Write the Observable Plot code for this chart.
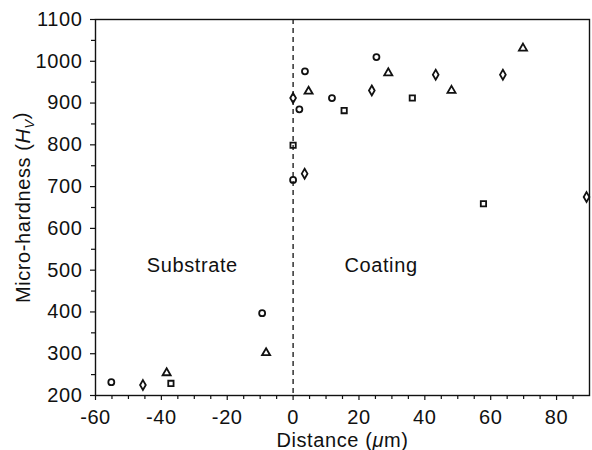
<!DOCTYPE html>
<html>
<head>
<meta charset="utf-8">
<script src="https://cdn.jsdelivr.net/npm/d3@7"></script>
<script src="https://cdn.jsdelivr.net/npm/@observablehq/plot@0.6"></script>
<style>
  html, body { margin: 0; padding: 0; background: #fff; }
</style>
</head>
<body>
<div id="chart"></div>
<script>
// Data
const circleX   = [-55.2, -9.4, 0, 1.9, 3.6, 11.8, 25.3];
const circleY   = [232, 397, 716, 885, 976, 912, 1010];
const squareX   = [-37.1, 0, 15.5, 36.2, 57.8];
const squareY   = [229, 799, 882, 912, 659];
const diamondX  = [-45.6, 0, 3.5, 23.9, 43.3, 63.7, 89.1];
const diamondY  = [225, 912, 731, 930, 968, 968, 675];
const triangleX = [-38.4, -8.2, 4.7, 28.9, 48.1, 69.8];
const triangleY = [254, 302, 928, 972, 930, 1031];

const seriesNames = ["circle", "square", "diamond", "triangle"];
const xMajor = [-60, -40, -20, 0, 20, 40, 60, 80];
const xMinor = [-55, -50, -45, -35, -30, -25, -15, -10, -5, 5, 10, 15, 25, 30, 35, 45, 50, 55, 65, 70, 75, 85];
const yMajor = [200, 300, 400, 500, 600, 700, 800, 900, 1000, 1100];
const yMinor = [250, 350, 450, 550, 650, 750, 850, 950, 1050];
const regionLabels = ["Substrate", "Coating"];
const regionX = [-30.6, 26.7];
const regionY = [511, 511];

const table = [];
[[circleX, circleY], [squareX, squareY], [diamondX, diamondY], [triangleX, triangleY]].forEach(([xs, ys], k) => {
  xs.forEach((x, i) => table.push({series: seriesNames[k], x, y: ys[i]}));
});
const regions = regionLabels.map((t, i) => ({t, x: regionX[i], y: regionY[i]}));

// custom symbols
const symCircle = { draw(ctx, size) { const r = Math.sqrt(size / Math.PI); ctx.moveTo(r, 0); ctx.arc(0, 0, r, 0, 2 * Math.PI); ctx.closePath(); } };
const symSquare = { draw(ctx, size) { const r = Math.sqrt(size / Math.PI); ctx.rect(-r, -r, 2 * r, 2 * r); } };
const symDiamond = { draw(ctx, size) { const r = Math.sqrt(size / Math.PI);
  ctx.moveTo(0, -r * 1.25); ctx.lineTo(r * 0.8, 0); ctx.lineTo(0, r * 1.25); ctx.lineTo(-r * 0.8, 0); ctx.closePath(); } };
const symTriangle = { draw(ctx, size) { const r = Math.sqrt(size / Math.PI);
  ctx.moveTo(0, -r * 0.95); ctx.lineTo(r * 1.0, r * 0.75); ctx.lineTo(-r * 1.0, r * 0.75); ctx.closePath(); } };

const chart = Plot.plot({
  width: 592,
  height: 450,
  marginLeft: 95,
  marginRight: 3,
  marginTop: 19,
  marginBottom: 55,
  style: {fontFamily: "'Liberation Sans', Arial, sans-serif", fontSize: "20px", letterSpacing: "0.6px", color: "#111", background: "#fff"},
  x: {domain: [-60, 90]},
  y: {domain: [200, 1100]},
  symbol: {domain: seriesNames, range: [symCircle, symSquare, symDiamond, symTriangle]},
  marks: [
    Plot.ruleX([0], {stroke: "#111", strokeWidth: 1.3, strokeDasharray: "5,4"}),
    Plot.axisX({ticks: xMinor, tickSize: 4, tickFormat: () => "", strokeWidth: 1.2, label: null}),
    Plot.axisX({ticks: xMajor, tickSize: 5, tickPadding: 9, strokeWidth: 1.2, label: null, tickFormat: d => String(d)}),
    Plot.axisY({ticks: yMinor, tickSize: 4, tickFormat: () => "", strokeWidth: 1.2, label: null}),
    Plot.axisY({ticks: yMajor, tickSize: 5, tickPadding: 8, strokeWidth: 1.2, label: null, tickFormat: d => String(d)}),
    Plot.frame({stroke: "#111", strokeWidth: 1.4}),
    Plot.dot(table, {x: "x", y: "y", symbol: "series", r: 3, stroke: "#111", strokeWidth: 1.8, fill: "none"}),
    Plot.text(regions, {x: "x", y: "y", text: "t", fill: "#111", fontSize: 20}),
    Plot.text(["Distance (μm)"], {frameAnchor: "bottom", dy: 45, lineAnchor: "middle", fill: "#111", fontSize: 20}),
    Plot.text(["Micro-hardness (Hv)"], {frameAnchor: "left", rotate: -90, dx: -72, lineAnchor: "middle", textAnchor: "middle", fill: "#111", fontSize: 20})
  ]
});

document.getElementById("chart").appendChild(chart);

// Italic styling inside the axis titles
const svg = d3.select(chart);
svg.selectAll("text").each(function () {
  const el = d3.select(this);
  const t = this.textContent;
  if (t === "Distance (μm)") {
    el.text(null);
    el.append("tspan").text("Distance (");
    el.append("tspan").attr("font-style", "italic").text("μ");
    el.append("tspan").text("m)");
  } else if (t === "Micro-hardness (Hv)") {
    el.text(null);
    el.append("tspan").text("Micro-hardness (");
    el.append("tspan").attr("font-style", "italic").text("H");
    el.append("tspan").attr("font-style", "italic").attr("font-size", "13px").attr("dy", "0.3em").text("V");
    el.append("tspan").attr("dy", "-0.3em").text(")");
  }
});
</script>
</body>
</html>
